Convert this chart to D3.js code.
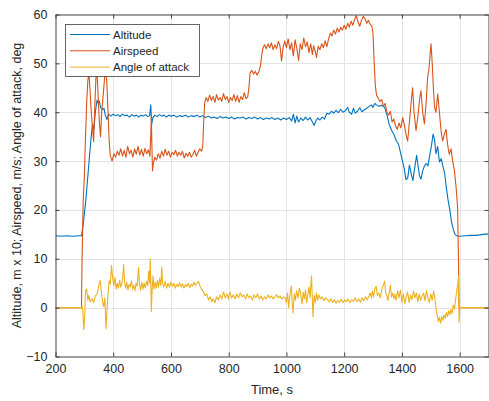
<!DOCTYPE html>
<html>
<head>
<meta charset="utf-8">
<script src="https://cdn.jsdelivr.net/npm/d3@7"></script>
<style>
  html, body { margin: 0; padding: 0; background: #fff; }
  svg { display: block; }
  text { font-family: "Liberation Sans", Arial, Helvetica, sans-serif; fill: #262626; }
</style>
</head>
<body>
<svg id="chart" width="489" height="401"></svg>
<script>
// ---- Data ----
const xTicks = [200, 400, 600, 800, 1000, 1200, 1400, 1600];
const yTicks = [-10, 0, 10, 20, 30, 40, 50, 60];
const seriesNames = ["Altitude", "Airspeed", "Angle of attack"];

const altitudeT = [200,220,240,260,280,290,296,305,315,322,328,333,338,344,348,352,356,362,368,372,378,384,392,400,408,416,424,432,440,448,456,464,472,480,488,496,504,512,520,526,530,533,537,544,552,560,568,576,584,592,600,610,620,630,640,650,660,670,680,690,700,710,720,730,740,750,760,770,780,790,800,810,820,830,840,850,860,870,880,890,900,910,920,930,940,950,960,970,980,990,1000,1010,1018,1024,1030,1036,1042,1050,1058,1066,1074,1082,1090,1096,1102,1108,1116,1124,1132,1140,1148,1156,1164,1172,1180,1188,1196,1204,1212,1218,1226,1232,1238,1246,1254,1262,1270,1278,1286,1294,1300,1306,1312,1320,1330,1340,1348,1356,1364,1372,1380,1388,1396,1402,1408,1414,1420,1426,1432,1438,1444,1451,1456,1461,1466,1472,1478,1484,1490,1496,1502,1508,1513,1518,1524,1530,1536,1542,1548,1554,1560,1566,1572,1578,1584,1590,1600,1620,1640,1660,1680,1700];
const altitudeV = [14.7,14.6,14.7,14.6,14.7,14.7,17,22,29,34,37.5,36.5,40,42.5,41.8,42.3,41,40.5,40.8,39.5,38.5,39.6,39.2,39.6,39.3,39.5,39.1,39.6,39.3,39.4,39.0,39.5,39.2,39.4,39.0,39.4,39.2,39.5,39.1,39.3,41.5,37.5,38.8,39.4,39.1,39.5,39.2,39.4,39.0,39.4,39.2,39.4,39.0,39.3,39.1,39.4,39.0,39.3,39.1,39.4,39.0,39.3,38.9,39.2,38.8,39.0,38.7,39.1,38.8,39.0,38.7,39.0,38.6,38.9,38.8,39.0,38.6,38.9,38.7,39.0,38.6,38.9,38.5,38.8,38.6,38.9,38.5,38.8,38.4,38.8,38.5,38.9,38.2,39.6,37.8,39.2,38.0,38.8,38.3,39.0,38.4,38.9,38.0,37.3,38.2,38.8,38.4,39.0,38.6,39.8,39.6,40.2,39.8,40.4,39.9,40.6,40.0,40.3,41.0,40.0,39.6,40.8,39.8,40.2,40.9,40.1,40.5,40.8,41.2,41.5,41.0,41.8,41.5,41.2,41.4,41.0,39.5,37.5,36.3,35.5,34.2,33.5,31.5,30.0,28.5,26.2,26.5,29.2,27.5,26.0,28.5,31.2,29.0,27.0,26.3,28.0,29.0,29.5,29.0,31.0,33.0,35.5,34.5,31.5,33.0,29.8,30.5,29.0,27.5,24.5,22.0,20.0,17.5,16.0,15.0,14.7,14.6,14.7,14.8,14.8,15.0,15.1];

const airspeedT = [200,290,292,296,300,304,308,312,316,320,324,328,332,336,340,344,348,352,356,360,366,370,374,378,382,386,390,396,402,408,414,420,426,432,438,444,450,456,462,468,474,480,486,492,498,504,510,516,522,527,530,532,534,536,539,544,550,556,562,568,574,580,586,592,598,604,610,616,622,628,634,640,646,652,658,664,670,676,682,688,694,700,706,710,714,717,722,728,734,740,746,752,758,764,770,776,782,788,794,800,806,812,818,824,830,836,842,848,854,860,866,870,874,880,886,892,898,904,910,914,918,924,930,936,942,948,954,960,966,972,978,983,988,994,1000,1006,1012,1018,1024,1030,1036,1042,1048,1054,1060,1066,1072,1078,1084,1090,1094,1100,1104,1110,1116,1122,1128,1134,1140,1146,1152,1158,1164,1170,1176,1182,1188,1194,1200,1206,1212,1218,1224,1230,1236,1242,1248,1254,1260,1266,1272,1278,1284,1290,1296,1300,1304,1308,1312,1318,1324,1330,1336,1342,1348,1354,1360,1366,1372,1378,1384,1390,1396,1403,1408,1414,1420,1426,1432,1437,1442,1449,1455,1461,1466,1472,1478,1484,1489,1494,1498,1501,1505,1509,1513,1518,1524,1530,1536,1541,1547,1553,1558,1564,1570,1576,1582,1588,1593,1596,1598,1700];
const airspeedV = [0,0,10,22,27,35,42,46.5,48,44,40,37,34,41,47,48,43,38,35,40,44,47,48.5,46,40,34,31,30,31.5,30.8,32,31.2,32.5,31.0,32.2,30.8,33.0,31.5,32.2,30.8,32.5,31.4,33.0,31.2,32.4,31.0,32.6,31.5,32.3,31.0,35.0,39.5,33.0,28.0,29.5,30.8,30.2,31.5,30.6,32.0,31.0,32.4,31.2,32.0,30.8,31.8,31.3,32.2,31.0,31.8,31.2,32.0,30.6,31.6,31.0,31.8,30.8,31.4,32.2,31.0,31.8,32.5,32.0,33.0,39.0,42.0,43.0,42.2,43.5,42.4,43.2,42.0,43.6,42.5,43.0,42.2,43.8,42.6,43.2,42.0,43.0,42.4,43.6,42.2,43.4,42.0,43.2,42.6,44.0,42.8,43.2,45.0,48.0,48.6,47.8,48.4,47.6,48.2,49.5,51.5,53.0,53.8,53.0,54.0,53.2,54.2,52.8,53.8,53.0,54.5,53.4,50.5,53.0,54.6,53.2,55.0,52.8,54.2,51.5,54.8,53.0,50.6,54.0,52.8,55.2,53.4,54.4,52.2,54.0,51.8,53.6,52.4,51.2,53.5,52.8,54.0,53.2,54.6,53.4,55.0,56.2,55.6,56.8,56.0,57.2,56.4,57.4,56.8,57.8,57.0,58.2,57.4,58.6,57.8,59.0,59.8,58.4,57.6,58.8,59.6,59.2,58.2,58.8,58.0,57.6,56.0,50.0,45.5,43.5,42.8,42.2,42.6,41.2,41.8,40.0,39.4,40.2,38.0,38.6,37.2,36.5,37.8,36.8,38.9,37.5,35.5,34.1,38.0,42.0,45.0,40.0,36.2,39.0,42.5,44.4,40.0,37.6,42.0,47.1,49.0,52.0,54.0,50.0,45.0,41.0,40.0,43.7,40.0,36.0,34.1,35.5,36.5,33.5,31.4,32.5,30.0,28.0,24.5,20.5,10,0,0];

const aoaT = [200,290,292,295,298,301,304,308,312,316,320,326,332,338,344,350,355,360,364,367,371,375,378,382,386,390,394,398,402,406,410,414,418,422,426,430,434,436,439,443,447,451,455,459,463,467,471,475,479,483,486,488,491,495,499,503,507,511,515,519,523,526,528,530,532,535,538,541,545,549,553,557,561,565,568,571,575,580,585,590,595,600,605,610,615,620,625,630,635,640,645,650,655,660,665,670,675,680,685,690,695,700,706,712,718,724,730,736,741,746,752,758,764,770,776,782,788,794,799,804,810,816,822,828,834,840,846,852,858,864,870,876,882,888,894,900,906,912,918,924,930,936,942,948,954,960,966,972,978,984,990,996,1000,1004,1008,1012,1017,1020,1023,1027,1031,1035,1040,1045,1050,1054,1058,1062,1066,1070,1074,1078,1082,1085,1087,1089,1092,1096,1100,1104,1108,1112,1118,1124,1130,1136,1142,1148,1154,1160,1166,1172,1178,1184,1190,1196,1202,1208,1214,1220,1226,1232,1238,1244,1250,1256,1262,1268,1274,1280,1286,1290,1294,1298,1302,1306,1311,1315,1320,1325,1330,1335,1340,1344,1348,1352,1356,1360,1364,1368,1372,1376,1380,1385,1390,1395,1400,1405,1410,1415,1420,1425,1430,1435,1440,1445,1450,1455,1460,1465,1470,1475,1480,1485,1490,1495,1500,1505,1510,1514,1518,1522,1526,1530,1534,1538,1542,1546,1550,1554,1558,1562,1566,1570,1574,1578,1582,1586,1590,1594,1596,1598,1600,1700];
const aoaV = [0,0,0.3,-1,-4.5,-2,3.5,3.8,1.5,2.5,1.2,1.8,1.0,2.4,2.8,4.5,5.6,2.5,1.0,0.2,2.0,-4.3,-1.0,3.0,5.5,4.8,8.6,6.0,4.5,6.2,3.8,5.0,4.0,5.6,4.2,5.0,7.0,8.8,5.5,4.0,5.2,3.6,4.8,4.2,5.5,3.8,4.6,3.5,5.0,4.4,7.0,8.2,4.8,3.5,5.2,3.8,5.0,4.0,5.4,4.5,7.5,5.0,10.0,6.0,-0.8,4.0,6.5,3.8,5.2,4.0,5.6,4.2,6.0,4.5,8.3,5.0,4.2,5.4,4.0,5.0,4.2,5.2,4.4,5.0,4.0,4.8,4.3,5.1,4.2,4.9,4.0,4.7,4.3,5.0,4.1,4.8,4.4,5.2,4.6,5.0,5.4,4.5,3.8,3.3,2.5,2.8,1.6,2.2,1.2,1.8,1.0,2.2,1.6,2.6,1.8,3.2,2.0,2.8,1.8,3.2,2.0,2.6,1.8,2.8,2.0,3.0,2.2,2.6,1.8,2.8,2.0,2.4,1.6,2.6,2.0,2.8,1.8,2.4,1.6,2.2,1.8,2.6,2.0,2.4,1.8,2.2,2.6,2.0,2.4,1.8,2.2,2.0,1.0,3.0,0.0,2.5,4.4,1.0,-1.1,2.8,1.5,3.5,2.0,4.0,2.5,0.8,3.2,1.8,3.6,1.0,2.6,4.2,2.0,5.0,6.5,3.0,-1.8,2.5,1.0,3.0,1.5,2.6,1.8,2.2,1.4,2.0,1.6,1.2,1.8,1.0,1.6,0.9,1.5,1.1,1.7,1.0,1.6,1.2,1.8,1.0,1.6,1.3,2.0,1.2,1.8,1.1,2.0,1.4,2.2,1.6,2.4,3.0,2.0,3.4,2.2,3.8,4.4,2.5,3.0,2.0,3.6,4.5,5.4,3.0,2.4,1.5,3.2,4.6,2.2,3.0,1.8,2.8,1.5,3.5,2.0,3.6,1.0,2.8,0.8,2.2,3.2,1.0,2.6,1.6,3.4,2.0,3.0,1.2,2.8,1.5,2.4,3.0,1.4,3.5,2.0,1.0,2.8,1.5,3.4,2.0,0.0,-1.5,-2.8,-2.0,-3.2,-1.8,-2.6,-1.5,-2.2,-1.0,-1.8,-0.6,-1.5,-0.4,-1.2,0.5,-0.3,1.6,3.5,5.0,6.4,-3.0,0,0];

// ---- Layout ----
const W = 489, H = 401;
const plot = { left: 55.5, right: 488.5, top: 14.5, bottom: 356.5 };
const colors = ["#0072BD", "#D95319", "#EDB120"];

const svg = d3.select("#chart");
const x = d3.scaleLinear().domain([200, 1700]).range([plot.left, plot.right]);
const y = d3.scaleLinear().domain([-10, 60]).range([plot.bottom, plot.top]);

svg.append("defs").append("clipPath").attr("id", "clip")
  .append("rect").attr("x", plot.left).attr("y", plot.top)
  .attr("width", plot.right - plot.left).attr("height", plot.bottom - plot.top);

// Grid
const grid = svg.append("g").attr("stroke", "#e3e3e3").attr("stroke-width", 1);
grid.selectAll(".gx").data(xTicks.filter(d => d > 200)).join("line")
  .attr("x1", d => Math.round(x(d)) + 0.5).attr("x2", d => Math.round(x(d)) + 0.5)
  .attr("y1", plot.top).attr("y2", plot.bottom);
grid.selectAll(".gy").data(yTicks.filter(d => d > -10 && d < 60)).join("line")
  .attr("y1", d => Math.round(y(d)) + 0.5).attr("y2", d => Math.round(y(d)) + 0.5)
  .attr("x1", plot.left).attr("x2", plot.right);

// Lines
const series = [
  { t: altitudeT, v: altitudeV },
  { t: airspeedT, v: airspeedV },
  { t: aoaT, v: aoaV }
];
const line = d3.line().x(d => x(d[0])).y(d => y(d[1]));
const lines = svg.append("g").attr("clip-path", "url(#clip)");
series.forEach((s, i) => {
  const pts = s.t.map((t, k) => [t, s.v[k]]);
  lines.append("path").datum(pts)
    .attr("fill", "none").attr("stroke", colors[i]).attr("stroke-width", 1.1)
    .attr("stroke-linejoin", "round").attr("d", line);
});

// Axes (inward ticks, MATLAB style, box on)
const axisColor = "#404040";
const fontSize = 12.5;
const fmt = d3.format("d");
const bottomAxis = d3.axisBottom(x).tickValues(xTicks).tickFormat(fmt).tickSizeInner(-4).tickSizeOuter(0).tickPadding(8);
const gB = svg.append("g").attr("transform", `translate(0,${plot.bottom})`).call(bottomAxis);
const topAxis = d3.axisTop(x).tickValues(xTicks).tickSizeInner(-4).tickSizeOuter(0).tickFormat("");
const gT = svg.append("g").attr("transform", `translate(0,${plot.top})`).call(topAxis);
const leftAxis = d3.axisLeft(y).tickValues(yTicks).tickFormat(fmt).tickSizeInner(-4).tickSizeOuter(0).tickPadding(8);
const gL = svg.append("g").attr("transform", `translate(${plot.left},0)`).call(leftAxis);
const rightAxis = d3.axisRight(y).tickValues(yTicks).tickSizeInner(-4).tickSizeOuter(0).tickFormat("");
const gR = svg.append("g").attr("transform", `translate(${plot.right},0)`).call(rightAxis);
[gB, gT, gL, gR].forEach(g => {
  g.select(".domain").attr("stroke", axisColor).attr("stroke-width", 1);
  g.selectAll(".tick line").attr("stroke", axisColor).attr("stroke-width", 1);
  g.selectAll("text").attr("font-size", fontSize).attr("fill", "#262626")
    .attr("font-family", '"Liberation Sans", Arial, sans-serif');
});

// Axis labels
svg.append("text").attr("x", (plot.left + plot.right) / 2).attr("y", 394)
  .attr("text-anchor", "middle").attr("font-size", 13).text("Time, s");
svg.append("text")
  .attr("transform", `translate(21,${(plot.top + plot.bottom) / 2}) rotate(-90)`)
  .attr("text-anchor", "middle").attr("font-size", 12.5)
  .text("Altitude, m x 10; Airspeed, m/s; Angle of attack, deg");

// Legend
const lg = svg.append("g");
lg.append("rect").attr("x", 65.5).attr("y", 24.5).attr("width", 134).attr("height", 52)
  .attr("fill", "#fff").attr("stroke", "#404040").attr("stroke-width", 0.8);
seriesNames.forEach((name, i) => {
  const yy = 34.5 + i * 16.3;
  lg.append("line").attr("x1", 70).attr("x2", 110).attr("y1", yy).attr("y2", yy)
    .attr("stroke", colors[i]).attr("stroke-width", 1);
  lg.append("text").attr("x", 113).attr("y", yy + 4).attr("font-size", 11.5).text(name);
});
</script>
</body>
</html>
